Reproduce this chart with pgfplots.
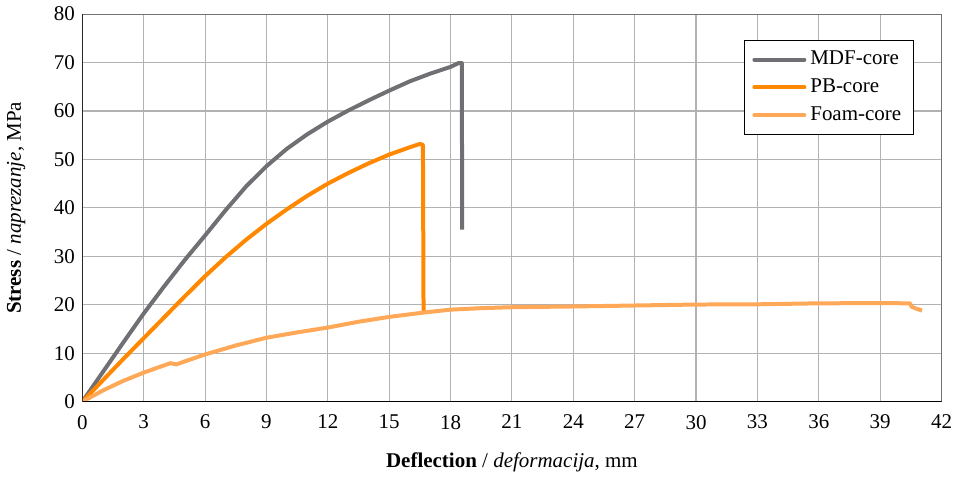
\documentclass[border=0pt]{standalone}
\usepackage{fontspec}
\setmainfont{Liberation Serif}
\usepackage{pgfplots}
\pgfplotsset{compat=1.18}
\definecolor{mdf}{RGB}{112,112,116}
\definecolor{pb}{RGB}{255,136,0}
\definecolor{foam}{RGB}{255,168,88}
\begin{document}
\fontsize{10.5}{12}\selectfont
\begin{tikzpicture}
\begin{axis}[
  scale only axis,
  width=430pt, height=194pt,
  xmin=0, xmax=42, ymin=0, ymax=80,
  xtick={0,3,...,42}, ytick={0,10,...,80},
  major tick length=0pt,
  grid=major,
  major grid style={draw=gray!60, line width=0.55pt},
  axis line style={draw=gray!90!black, line width=0.5pt},
  /pgf/number format/assume math mode=true,
  tick label style={font=\fontsize{10.5}{12}\selectfont},
  xticklabel style={yshift=-3pt},
  xlabel={\textbf{Deflection} / \textit{deformacija}, mm},
  ylabel={\textbf{Stress} / \textit{naprezanje}, MPa},
  xlabel style={at={(axis description cs:0.5,-0.157)}, anchor=center},
  ylabel style={at={(axis description cs:-0.077,0.5)}, anchor=center, rotate=0},
  legend style={at={(rel axis cs:0.770,0.934)}, anchor=north west, draw=black, line width=0.5pt,
    font=\fontsize{10.5}{12}\selectfont, row sep=1.5pt, inner xsep=4pt, inner ysep=3.5pt, fill=white},
  legend cell align=left,
  legend image code/.code={\draw[#1, line width=2pt, line cap=round] (0pt,0pt) -- (25pt,0pt);},
]
\addplot[mdf, line width=2pt, line join=round] coordinates {
(0,0)(1,6.1)(2,12.2)(3,18.2)(4,23.8)(5,29.2)(6,34.3)(7,39.5)(8,44.4)(9,48.6)(10,52.2)(11,55.2)(12,57.8)(13,60.1)(14,62.2)(15,64.2)(16,66.1)(17,67.7)(18,69.1)(18.4,69.9)(18.55,69.9)(18.57,35.5)};
\addlegendentry{MDF-core}
\addplot[pb, line width=2pt, line join=round] coordinates {
(0,0)(1,4.4)(2,8.8)(3,13.1)(4,17.4)(5,21.7)(6,25.9)(7,29.8)(8,33.4)(9,36.7)(10,39.7)(11,42.5)(12,45.0)(13,47.2)(14,49.2)(15,51.0)(16,52.5)(16.5,53.2)(16.65,53.0)(16.68,18.6)};
\addlegendentry{PB-core}
\addplot[foam, line width=2pt, line join=round] coordinates {
(0,0)(1,2.3)(2,4.3)(3,6.0)(4,7.5)(4.3,7.95)(4.6,7.7)(5,8.3)(6,9.75)(7.5,11.6)(9,13.2)(10.5,14.3)(12,15.3)(13.5,16.5)(15,17.5)(16.7,18.4)(18,19.0)(19.5,19.3)(21,19.5)(24,19.65)(27,19.85)(30,20.05)(33,20.1)(36,20.3)(39,20.35)(40.45,20.3)(40.55,19.6)(40.7,19.3)(41.05,18.8)};
\addlegendentry{Foam-core}
\draw[black, line width=1.1pt] (rel axis cs:0,1) -- (rel axis cs:0,0) -- (rel axis cs:1,0);
\end{axis}
\end{tikzpicture}
\end{document}
